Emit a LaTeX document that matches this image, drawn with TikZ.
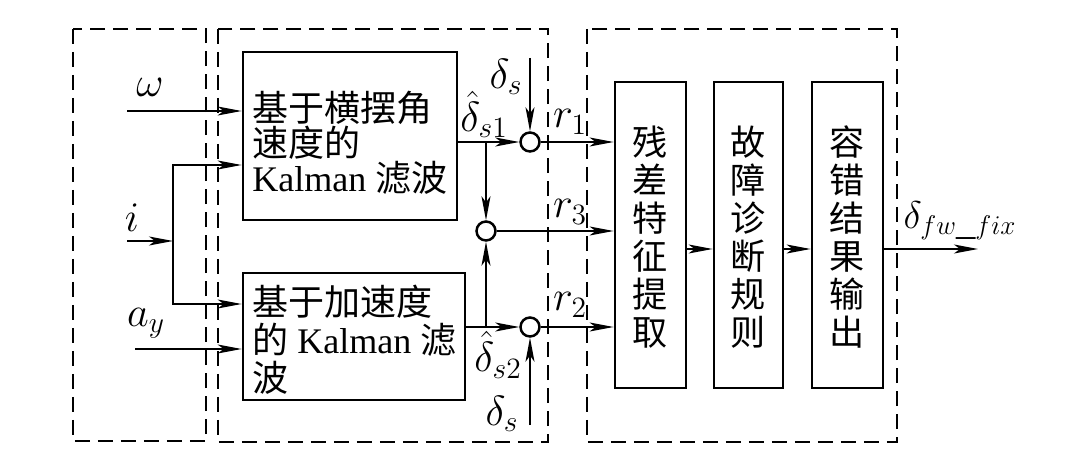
\documentclass[tikz,border=0pt]{standalone}
\usepackage{fix-cm}
\usepackage{fontspec}
\setmainfont{Liberation Serif}
\newfontfamily\cjk{Noto Sans CJK SC}
\newcommand{\zh}[1]{{\cjk #1}}
\usetikzlibrary{arrows.meta}
\begin{document}
\begin{tikzpicture}[x=0.02cm,y=-0.02cm,
  box/.style={draw,line width=1.6pt,inner sep=0pt},
  dbox/.style={draw,dash pattern=on 0.3cm off 0.16cm,line width=0.8pt},
  arr/.style={line width=0.8pt,-{Stealth[length=0.48cm,width=0.18cm,inset=0.12cm]}},
  ln/.style={line width=0.8pt},
  sumc/.style={draw,circle,line width=1.4pt,minimum size=0.38cm,inner sep=0pt},
  lbl/.style={font=\fontsize{24}{26}\selectfont,inner sep=0pt},
  txt/.style={font=\fontsize{20.5}{20}\selectfont,align=left,inner sep=0pt},
  txtb/.style={font=\fontsize{20.5}{21.6}\selectfont,align=left,inner sep=0pt},
  vtxt/.style={font=\fontsize{20}{21.6}\selectfont,align=center,inner sep=0pt}]

\useasboundingbox (0,0) rectangle (1080,456);

% dashed groups
\draw[dbox] (73,29) rectangle (206,441);
\draw[dbox] (218,29) rectangle (548,442);
\draw[dbox] (587,29) rectangle (897,442);

% Kalman filter boxes
\node[box,minimum width=4.28cm,minimum height=3.36cm] (A) at (350,136) {};
\node[txt,anchor=west] (tA) at (252,143) {\zh{基于横摆角}\\\zh{速度的}\\Kalman \zh{滤波}};
\node[box,minimum width=4.44cm,minimum height=2.54cm] (B) at (354,336.5) {};
\node[txtb,anchor=west] (tB) at (252,340) {\zh{基于加速度}\\\zh{的} Kalman \zh{滤}\\\zh{波}};

% decision boxes
\node[box,minimum width=1.42cm,minimum height=6.12cm] (C) at (650.5,235) {};
\node[vtxt] (tC) at (650.5,237) {\zh{残}\\\zh{差}\\\zh{特}\\\zh{征}\\\zh{提}\\\zh{取}};
\node[box,minimum width=1.38cm,minimum height=6.12cm] (D) at (748.5,235) {};
\node[vtxt] (tD) at (748.5,237) {\zh{故}\\\zh{障}\\\zh{诊}\\\zh{断}\\\zh{规}\\\zh{则}};
\node[box,minimum width=1.42cm,minimum height=6.12cm] (E) at (847.5,235) {};
\node[vtxt] (tE) at (847.5,237) {\zh{容}\\\zh{错}\\\zh{结}\\\zh{果}\\\zh{输}\\\zh{出}};

% summing circles
\node[sumc] (c1) at (530,142) {};
\node[sumc] (c3) at (486,231) {};
\node[sumc] (c2) at (530,327) {};

% coordinates
\coordinate (w0) at (127,111);
\coordinate (i0) at (127,241);
\coordinate (ij) at (173,241);
\coordinate (a0) at (135,349);
\coordinate (b1) at (486,142);
\coordinate (b2) at (486,327);
\coordinate (ds1) at (530,58);
\coordinate (ds2) at (530,425);
\coordinate (out) at (978,249);

% inputs
\draw[arr] (w0) -- (w0 -| A.west);
\draw[arr] (i0) -- (ij);
\draw[arr] (ij) |- (A.west |- 0,165);
\draw[arr] (ij) |- (B.west |- 0,304);
\draw[arr] (a0) -- (a0 -| B.west);

% filter outputs
\draw[arr] (A.east |- c1) -- (c1);
\draw[arr] (B.east |- c2) -- (c2);
\draw[arr] (b1) -- (c3);
\draw[arr] (b2) -- (c3);
\draw[arr] (ds1) -- (c1);
\draw[arr] (ds2) -- (c2);

% residuals
\draw[arr] (c1) -- (C.west |- c1);
\draw[arr] (c3) -- (C.west |- c3);
\draw[arr] (c2) -- (C.west |- c2);

% chain
\draw[arr] (C.east |- 0,249) -- (D.west |- 0,249);
\draw[arr] (D.east |- 0,249) -- (E.west |- 0,249);
\draw[arr] (E.east |- out) -- (out);

% labels
\node[lbl] (lw) at (150,87) {$\omega$};
\node[lbl] (li) at (132,218) {$i$};
\node[lbl] (la) at (146,323) {$a_y$};
\node[lbl] (lds1) at (506,77) {$\delta_s$};
\node[lbl,anchor=south] (lh1) at (484,138) {$\hat{\delta}_{s1}$};
\node[lbl,anchor=north] (lh2) at (498,331) {$\hat{\delta}_{s2}$};
\node[lbl] (lds2) at (502,414) {$\delta_s$};
\node[lbl] (lr1) at (570,122) {$r_1$};
\node[lbl] (lr3) at (570,212) {$r_3$};
\node[lbl] (lr2) at (570,305) {$r_2$};
\node[lbl,font=\fontsize{22}{24}\selectfont] (lout) at (960,221) {$\delta_{fw\_fix}$};
\end{tikzpicture}
\end{document}
